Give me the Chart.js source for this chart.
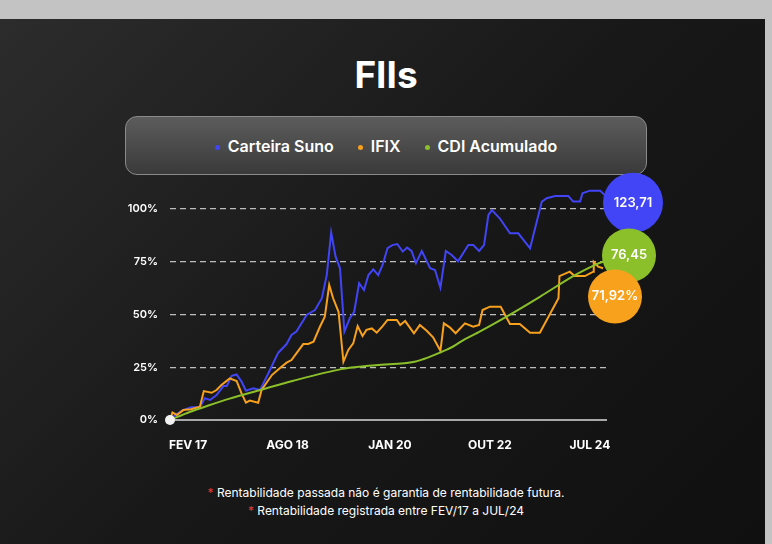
<!DOCTYPE html>
<html>
<head>
<meta charset="utf-8">
<script src="https://cdn.jsdelivr.net/npm/chart.js@4"></script>
<style>
  body { margin: 0; width: 772px; height: 544px; background: #c3c3c3; font-family: Inter, "Noto Sans", sans-serif; overflow: hidden; }
  .panel { position: absolute; left: 0; top: 19px; width: 765px; height: 525px;
    background: linear-gradient(135deg, #2c2c2c 0%, #181818 50%, #101010 100%); }
  h1 { position: absolute; top: 52px; left: 0; width: 772px; margin: 0; text-align: center;
    color: #fff; font-size: 37px; font-weight: 700; }
  .legend { position: absolute; left: 125px; top: 116px; width: 520px; height: 57px; border-radius: 12px;
    border: 1px solid #8a8a8a; background: linear-gradient(180deg, #5c5c5c, #3a3a3a);
    display: flex; align-items: center; justify-content: center; gap: 24px; color: #fff; font-size: 16px; font-weight: 600; }
  .legend span::before { content: ''; display: inline-block; width: 5px; height: 5px; border-radius: 50%;
    background: var(--c); margin-right: 8px; vertical-align: middle; }
  .note { position: absolute; left: 0; width: 772px; text-align: center; color: #fff; font-size: 12px; }
  .note b { color: #e53935; font-weight: 400; }
  canvas { position: absolute; left: 0; top: 0; }
</style>
</head>
<body>
<div class="panel"></div>
<h1>FIIs</h1>
<div class="legend">
  <span style="--c:#4145f5">Carteira Suno</span>
  <span style="--c:#f7a11d">IFIX</span>
  <span style="--c:#8bc02a">CDI Acumulado</span>
</div>
<div class="note" style="top:485px"><b>*</b> Rentabilidade passada não é garantia de rentabilidade futura.</div>
<div class="note" style="top:503px"><b>*</b> Rentabilidade registrada entre FEV/17 a JUL/24</div>
<canvas id="c" width="772" height="544"></canvas>
<script>
// months since FEV/17 and accumulated return (%)
const sunoX = [0, 1, 2.7, 4.3, 6.1, 7.1, 8.2, 9.5, 10.9, 11.6, 12.6, 13.6, 14.6, 15.5, 17, 18.4, 20.4, 22.1, 23.8, 24.8, 25.8, 27.9, 29.6, 31, 32, 32.9, 33.8, 34.7, 35.6, 36.7, 37.6, 38.6, 39.6, 40.5, 41.5, 42.5, 43.4, 44.4, 45.4, 46.4, 47.5, 48.4, 49.3, 50.2, 51.4, 53.1, 54.1, 55.2, 56.3, 57.5, 58.8, 60.9, 61.9, 63.1, 64.1, 65, 65.7, 67.3, 69.4, 71.1, 73.5, 75.9, 76.9, 78.6, 81.3, 82.3, 83.7, 84.2, 85.7, 87.8, 89.1];
const sunoY = [0, 2.4, 4.7, 6, 6, 10.3, 9.5, 11.8, 16.1, 16.1, 20.9, 21.6, 18.2, 13.9, 15, 14.2, 23.7, 31.9, 36, 40.3, 41.9, 49.8, 52.1, 57.7, 68.7, 88.8, 77.4, 71.9, 41.9, 48.2, 51.3, 64.8, 61.6, 68.7, 71.4, 68.7, 73.5, 81.4, 82.9, 83.4, 79.8, 81.7, 80.1, 74.3, 80.1, 71.9, 71.1, 62.7, 80.1, 78.2, 75.2, 82.9, 82.9, 80.1, 82.9, 97.2, 99.5, 95.6, 88.5, 88.5, 81.4, 103.5, 105.1, 106.2, 106.2, 103.5, 103.5, 107.4, 108.7, 108.7, 105.8];
const ifixX = [0, 0.5, 1.4, 2.7, 4.3, 6.1, 6.9, 8.5, 9.5, 10.5, 12.2, 13.6, 14.6, 15.5, 16.3, 18, 18.7, 20.8, 22.4, 23.8, 24.8, 25.8, 27.2, 28.2, 29.3, 30.6, 31.6, 32.5, 33.3, 34.4, 35.4, 36.4, 37.4, 38.3, 39.3, 40.1, 41.2, 42.2, 43.4, 44.4, 45.6, 46.3, 47, 48, 49.8, 51, 52.4, 53.7, 55.2, 55.9, 57.1, 58.3, 60.2, 61.9, 63.1, 63.8, 65.3, 67.5, 69.4, 71.4, 73.5, 75.5, 79.3, 79.5, 81.6, 82.6, 84.7, 86.4, 86.5, 87.4, 88.4];
const ifixY = [0, 3.6, 2.4, 4.7, 5.1, 6.3, 13.7, 12.9, 14.2, 16.6, 19.7, 18.5, 12.6, 8.2, 9.2, 8.2, 14.2, 21.3, 24.5, 27.2, 28.4, 31.6, 36, 36, 37.1, 44.2, 49, 64, 57.7, 51.3, 27.6, 33.2, 36.3, 44.5, 39.8, 42.7, 43.4, 41.4, 44.5, 47.4, 47.4, 47.4, 45, 46.9, 41.1, 45, 42.3, 39.2, 32.8, 45.8, 43.9, 41.1, 45.8, 44.2, 45, 52.1, 53.7, 53.7, 45.5, 45.5, 41.4, 41.4, 57.7, 68.2, 70.3, 68.2, 68.2, 70.3, 75, 72.7, 71.9];
const cdiX = [0, 4, 8, 12, 18.4, 25, 34.7, 42, 49.9, 57.1, 59.9, 63.3, 68.7, 75.5, 82.3, 87, 89];
const cdiY = [0, 3.8, 7, 10, 14.2, 18.5, 24, 26, 27.6, 34, 37.9, 42, 49, 58.4, 68.2, 73.8, 75.5];
const xTicks = [3.7, 24, 44.9, 65.3, 85.7];
const xLabels = ['FEV 17', 'AGO 18', 'JAN 20', 'OUT 22', 'JUL 24'];
const yTicks = [0, 25, 50, 75, 100];
const bubbles = [
  { text: '123,71', color: '#4145f5', y: 103, dx: 27, r: 30 },
  { text: '76,45', color: '#8bc02a', y: 78, dx: 23, r: 27 },
  { text: '71,92%', color: '#f7a11d', y: 58.5, dx: 9, r: 27 }
];

const pts = (xs, ys) => xs.map((x, i) => ({ x, y: ys[i] }));

const bubblePlugin = {
  id: 'bubbles',
  afterDatasetsDraw(chart) {
    const { ctx, scales: { x, y } } = chart;
    // white origin dot
    ctx.save();
    ctx.fillStyle = '#f2f2f2';
    ctx.beginPath(); ctx.arc(x.getPixelForValue(0), y.getPixelForValue(0), 5, 0, Math.PI * 2); ctx.fill();
    bubbles.forEach(b => {
      const cx = x.getPixelForValue(89) + b.dx, cy = y.getPixelForValue(b.y);
      ctx.fillStyle = b.color;
      ctx.beginPath(); ctx.arc(cx, cy, b.r, 0, Math.PI * 2); ctx.fill();
      ctx.fillStyle = '#fff';
      ctx.font = '600 13px Inter';
      ctx.textAlign = 'center'; ctx.textBaseline = 'middle';
      ctx.fillText(b.text, cx, cy);
    });
    ctx.restore();
  }
};

new Chart(document.getElementById('c'), {
  type: 'line',
  data: {
    datasets: [
      { data: pts(cdiX, cdiY), borderColor: '#8bc02a', tension: 0.3, clip: false },
      { data: pts(ifixX, ifixY), borderColor: '#f7a11d', clip: false },
      { data: pts(sunoX, sunoY), borderColor: '#4145f5', clip: false }
    ]
  },
  options: {
    responsive: false,
    animation: false,
    layout: { padding: { left: 108, right: 166, top: 209, bottom: 84 } },
    elements: { point: { radius: 0 }, line: { borderWidth: 2 } },
    plugins: { legend: { display: false }, tooltip: { enabled: false } },
    scales: {
      x: {
        type: 'linear', min: 0, max: 89,
        afterBuildTicks: s => { s.ticks = xTicks.map(v => ({ value: v })); },
        afterFit: s => { s.height = 40; },
        ticks: { color: '#fff', font: { family: 'Inter', size: 12, weight: '700' }, padding: 10,
          callback: (v, i) => xLabels[i] },
        grid: { display: false },
        border: { color: '#a8a8a8', width: 2 }
      },
      y: {
        min: 0, max: 100,
        afterBuildTicks: s => { s.ticks = yTicks.map(v => ({ value: v })); },
        afterFit: s => { s.width = 62; },
        ticks: { color: '#fff', font: { family: 'Inter', size: 11, weight: '600' }, padding: 12,
          callback: v => v + '%' },
        grid: { color: c => c.tick.value === 0 ? 'transparent' : '#bdbdbd', drawTicks: false, lineWidth: 1.3 },
        border: { display: false, dash: [6, 4] }
      }
    }
  },
  plugins: [bubblePlugin]
});
</script>
</body>
</html>
